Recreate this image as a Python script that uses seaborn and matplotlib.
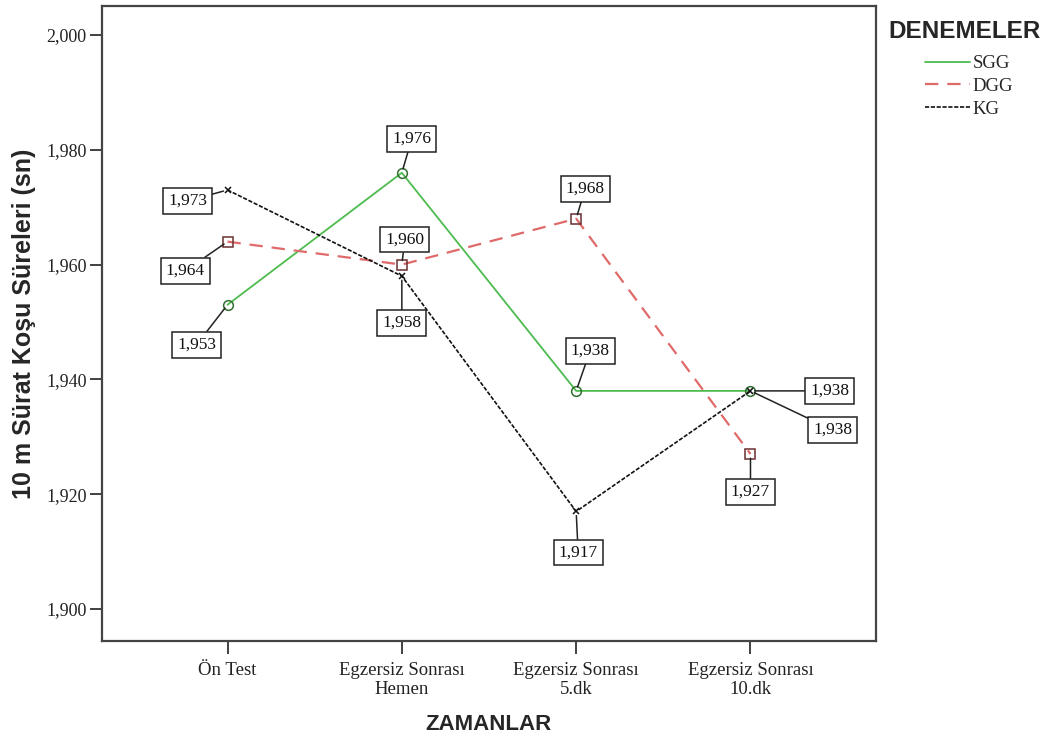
import numpy as np
import matplotlib
matplotlib.use('Agg')
import matplotlib.pyplot as plt
from matplotlib.ticker import FuncFormatter
from matplotlib.lines import Line2D
import pandas as pd
import seaborn as sns

sns.set_style('white')

zamanlar = ['Ön Test', 'Egzersiz Sonrası\nHemen', 'Egzersiz Sonrası\n5.dk', 'Egzersiz Sonrası\n10.dk']
sgg = [1.953, 1.976, 1.938, 1.938]
dgg = [1.964, 1.960, 1.968, 1.927]
kg = [1.973, 1.958, 1.917, 1.938]

# label box offsets (pixels) from each point
sgg_off = [(-31, -40), (10, 34), (14, 40), (79, 0)]
dgg_off = [(-42, -29), (3, 25), (9, 30), (0, -38)]
kg_off = [(-40, -11), (0, -47), (2, -41), (82, -39)]

groups = [
    ('SGG', sgg, sgg_off, '#4dbb4d', '#2f6f2f', 'o', '-', 1.3),
    ('DGG', dgg, dgg_off, '#e06a6a', '#6a3030', 's', (0, (6, 4)), 1.6),
    ('KG', kg, kg_off, '#111111', '#111111', 'x', (0, (2.5, 1)), 1.2),
]

serif = 'Liberation Serif'
sans = 'Liberation Sans'

fig = plt.figure(figsize=(10.49, 7.44), dpi=100)
ax = fig.add_axes([102 / 1049, 1 - 641 / 744, (876 - 102) / 1049, (641 - 6) / 744])

x = np.arange(len(zamanlar))
for name, vals, offs, col, ecol, mk, ls, lw in groups:
    df = pd.DataFrame({'zaman': x, 'sure': vals})
    sns.lineplot(data=df, x='zaman', y='sure', ax=ax, color=col, linestyle=ls, lw=lw,
                 marker=mk, markersize=7 if mk != 'x' else 5, mfc='none', mec=ecol, mew=1.1)
    for xi, v, (dx, dy) in zip(x, vals, offs):
        ax.annotate(f'{v:.3f}'.replace('.', ','), xy=(xi, v), xytext=(dx, dy),
                    textcoords='offset pixels', ha='center', va='center',
                    fontsize=12.5, family=serif, color='#111111',
                    bbox=dict(boxstyle='square,pad=0.28', fc='white', ec='#222222', lw=1.1),
                    arrowprops=dict(arrowstyle='-', color='#222222', lw=1.1, shrinkA=0, shrinkB=3))

ax.set_xlim(-0.72, 3.72)
ax.set_ylim(1.89443, 2.00505)
ax.set_xticks(x)
ax.set_xticklabels(zamanlar, family=serif, fontsize=13.5, linespacing=1.15)
ax.set_yticks([1.900, 1.920, 1.940, 1.960, 1.980, 2.000])
ax.yaxis.set_major_formatter(FuncFormatter(lambda v, p: f'{v:.3f}'.replace('.', ',')))
for lab in ax.get_yticklabels():
    lab.set_family(serif)
    lab.set_fontsize(13)
ax.tick_params(axis='both', direction='out', length=9, width=1.3, color='#333333',
               left=True, bottom=True, labelcolor='#222222')
ax.tick_params(axis='x', pad=6)
ax.tick_params(axis='y', pad=2)
for sp in ax.spines.values():
    sp.set_color('#444444')
    sp.set_linewidth(1.6)

ax.set_xlabel('ZAMANLAR', family=sans, fontsize=16, fontweight='bold', labelpad=12)
ax.set_ylabel('10 m Sürat Koşu Süreleri (sn)', family=sans, fontsize=18, fontweight='bold', labelpad=7)

fig.text(888 / 1049, 1 - 31 / 744, 'DENEMELER', family=sans, fontsize=17.5, fontweight='bold',
         ha='left', va='center')
handles = [Line2D([0], [0], color=g[3], linestyle=g[6], lw=g[7]) for g in groups]
fig.legend(handles, [g[0] for g in groups], loc='upper left',
           bbox_to_anchor=(925 / 1049, 1 - 55 / 744), frameon=False,
           prop={'family': serif, 'size': 13.5}, handlelength=2.4, handletextpad=0.15,
           labelspacing=0.3, borderpad=0, borderaxespad=0)

fig.savefig('out.png', dpi=100, facecolor='white')
